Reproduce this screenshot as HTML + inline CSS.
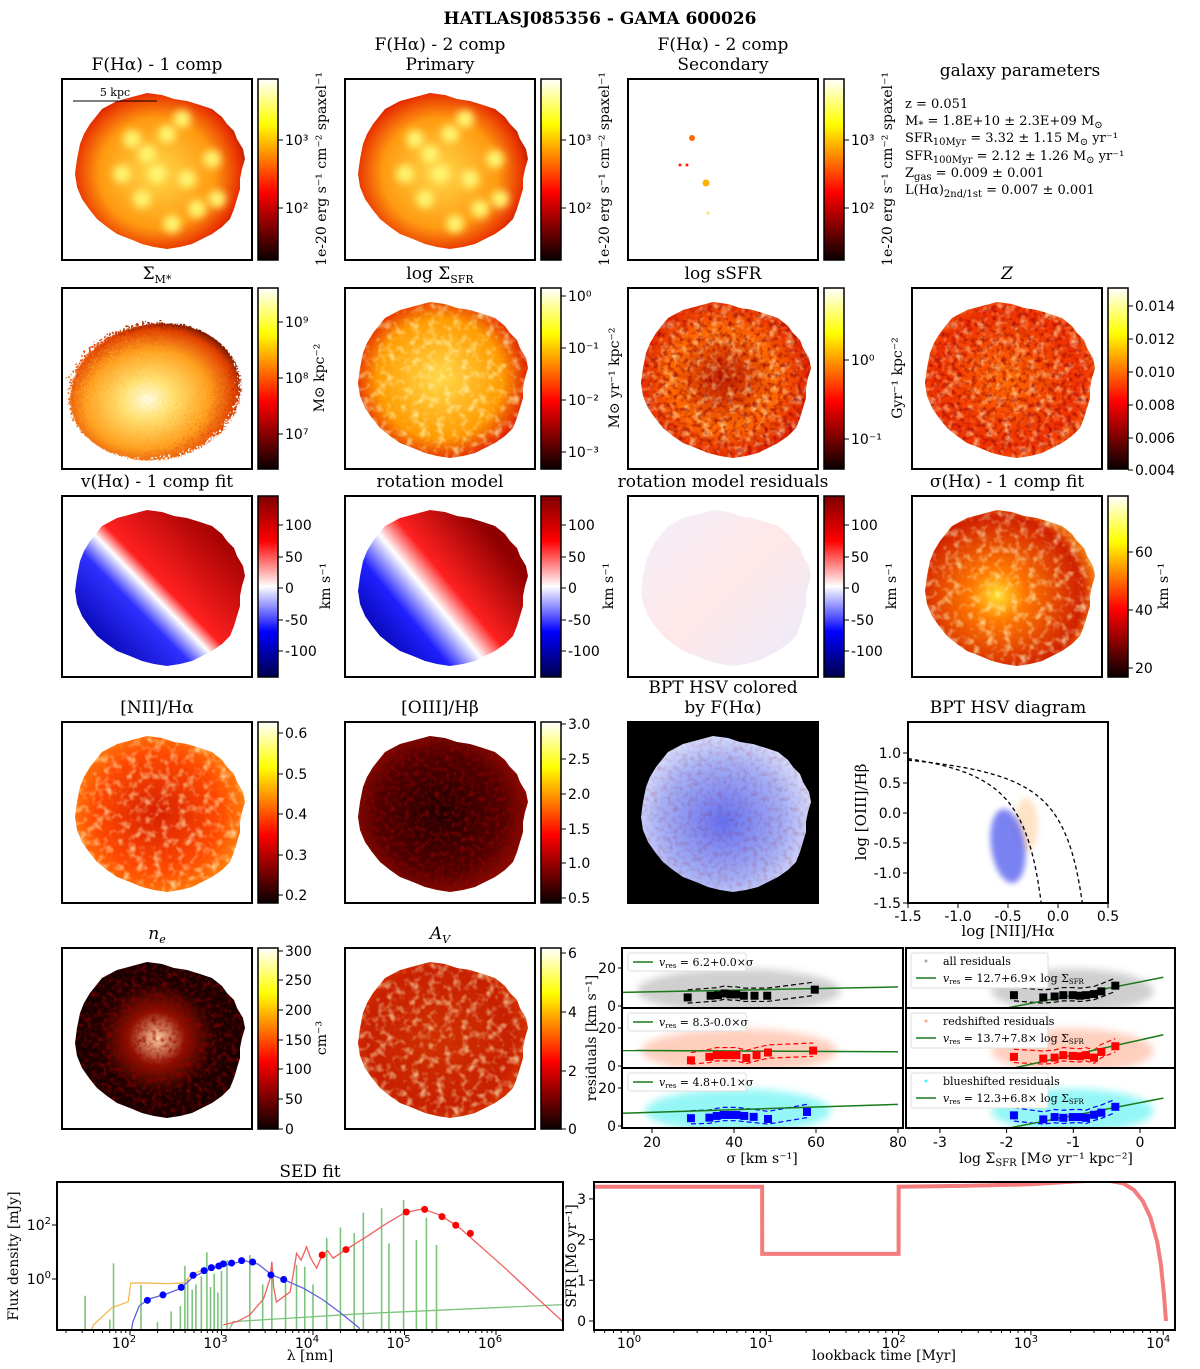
<!DOCTYPE html>
<html><head><meta charset="utf-8"><style>
html,body{margin:0;background:#fff;overflow:hidden;width:1200px;height:1369px}
svg{display:block}
svg text{font-family:"DejaVu Serif","Liberation Serif",serif;fill:#000}
.t{font-size:17px}.tk{font-family:"DejaVu Sans","Liberation Sans",sans-serif!important;font-size:14px}
.sm{font-size:13px}
</style></head><body>
<svg id="fig" width="1200" height="1369" viewBox="0 0 1200 1369" xmlns="http://www.w3.org/2000/svg">
<defs>
<linearGradient id="hot" x1="0" y1="1" x2="0" y2="0"><stop offset="0" stop-color="#0a0000"/><stop offset="0.375" stop-color="#ff0000"/><stop offset="0.75" stop-color="#ffff00"/><stop offset="1" stop-color="#ffffff"/></linearGradient>
<linearGradient id="seis" x1="0" y1="1" x2="0" y2="0"><stop offset="0" stop-color="#00004c"/><stop offset="0.25" stop-color="#0000ff"/><stop offset="0.5" stop-color="#ffffff"/><stop offset="0.75" stop-color="#ff0000"/><stop offset="1" stop-color="#800000"/></linearGradient>
<radialGradient id="gHa" cx="0.5" cy="0.52" r="0.55"><stop offset="0" stop-color="#ffd84a"/><stop offset="0.55" stop-color="#ff9a10"/><stop offset="0.8" stop-color="#e83000"/><stop offset="1" stop-color="#500000"/></radialGradient>
<radialGradient id="gMs" cx="0.45" cy="0.55" r="0.6"><stop offset="0" stop-color="#fffbe0"/><stop offset="0.25" stop-color="#ffe070"/><stop offset="0.6" stop-color="#ffa020"/><stop offset="0.85" stop-color="#e04000"/><stop offset="1" stop-color="#400000"/></radialGradient>
<radialGradient id="gSF" cx="0.5" cy="0.5" r="0.55"><stop offset="0" stop-color="#ffd84a"/><stop offset="0.6" stop-color="#ff9a00"/><stop offset="0.85" stop-color="#e02000"/><stop offset="1" stop-color="#800000"/></radialGradient>
<radialGradient id="gSS" cx="0.5" cy="0.5" r="0.55"><stop offset="0" stop-color="#c02000"/><stop offset="0.5" stop-color="#ff6a00"/><stop offset="0.85" stop-color="#e02000"/><stop offset="1" stop-color="#700000"/></radialGradient>
<radialGradient id="gZ" cx="0.5" cy="0.5" r="0.55"><stop offset="0" stop-color="#ff6a00"/><stop offset="0.7" stop-color="#f03000"/><stop offset="1" stop-color="#ff7a10"/></radialGradient>
<radialGradient id="gSig" cx="0.45" cy="0.55" r="0.55"><stop offset="0" stop-color="#ffe030"/><stop offset="0.25" stop-color="#ff7a00"/><stop offset="0.8" stop-color="#d02000"/><stop offset="1" stop-color="#ff9a10"/></radialGradient>
<radialGradient id="gN2" cx="0.5" cy="0.5" r="0.55"><stop offset="0" stop-color="#d82000"/><stop offset="0.6" stop-color="#ff4a00"/><stop offset="1" stop-color="#ff9a10"/></radialGradient>
<radialGradient id="gO3" cx="0.5" cy="0.5" r="0.55"><stop offset="0" stop-color="#200000"/><stop offset="0.6" stop-color="#500000"/><stop offset="1" stop-color="#b01000"/></radialGradient>
<radialGradient id="gAV" cx="0.5" cy="0.5" r="0.55"><stop offset="0" stop-color="#d03000"/><stop offset="0.7" stop-color="#c82000"/><stop offset="1" stop-color="#e04000"/></radialGradient>
<radialGradient id="gBPT" cx="0.5" cy="0.55" r="0.55"><stop offset="0" stop-color="#6670f0"/><stop offset="0.6" stop-color="#a6b0f6"/><stop offset="1" stop-color="#eef0ff"/></radialGradient>
<radialGradient id="gNe" cx="0.5" cy="0.5" r="0.5"><stop offset="0" stop-color="#ffd0a0"/><stop offset="0.3" stop-color="#901000"/><stop offset="0.6" stop-color="#200000"/><stop offset="1" stop-color="#100000"/></radialGradient>
<linearGradient id="gV1" x1="0.15" y1="0.85" x2="0.85" y2="0.2"><stop offset="0" stop-color="#0000a8"/><stop offset="0.35" stop-color="#3030ff"/><stop offset="0.47" stop-color="#ffffff"/><stop offset="0.55" stop-color="#ff2020"/><stop offset="1" stop-color="#a00000"/></linearGradient>
<linearGradient id="gV2" x1="0.1" y1="0.8" x2="0.8" y2="0.25"><stop offset="0" stop-color="#0000a0"/><stop offset="0.3" stop-color="#2020ff"/><stop offset="0.48" stop-color="#ffffff"/><stop offset="0.62" stop-color="#ff2020"/><stop offset="1" stop-color="#900000"/></linearGradient>
<linearGradient id="gV3" x1="0" y1="0" x2="1" y2="1"><stop offset="0" stop-color="#f0f0ff"/><stop offset="0.5" stop-color="#ffe8e8"/><stop offset="1" stop-color="#e8ecff"/></linearGradient>
<filter id="mott" x="0" y="0" width="1" height="1"><feTurbulence type="fractalNoise" baseFrequency="0.12" numOctaves="2" seed="3"/><feColorMatrix type="matrix" values="0 0 0 0 1  0 0 0 0 1  0 0 0 0 0.6  0 0 0 1.6 -0.75"/></filter>
<filter id="mottD" x="0" y="0" width="1" height="1"><feTurbulence type="fractalNoise" baseFrequency="0.2" numOctaves="2" seed="7"/><feColorMatrix type="matrix" values="0 0 0 0 0.3  0 0 0 0 0  0 0 0 0 0  0 0 0 1.8 -0.8"/></filter>
<filter id="speck" x="-0.1" y="-0.1" width="1.2" height="1.2"><feTurbulence type="turbulence" baseFrequency="0.35" numOctaves="1" seed="5"/><feDisplacementMap in="SourceGraphic" scale="12"/></filter>
<filter id="blur2" x="-0.5" y="-0.5" width="2" height="2"><feGaussianBlur stdDeviation="3"/></filter>
<filter id="blur4" x="-0.5" y="-0.5" width="2" height="2"><feGaussianBlur stdDeviation="4"/></filter>
<clipPath id="blob"><path id="blobP" d="M40,30 L55,22 L70,18 L85,14 L100,16 L112,20 L125,22 L138,26 L150,30 L160,38 L165,45 L172,52 L175,60 L181,70 L183,80 L180,90 L178,100 L178,110 L175,120 L172,130 L168,140 L160,148 L150,155 L140,160 L130,165 L118,168 L105,170 L92,168 L80,165 L68,160 L55,155 L45,148 L35,140 L27,130 L20,120 L15,108 L13,95 L15,80 L18,65 L22,55 L28,45 Z"/></clipPath>
</defs>
<text x="600" y="24" text-anchor="middle" style="font-size:17px;font-weight:bold">HATLASJ085356 - GAMA 600026</text>
<g id="maps"></g><g id="charts"></g>
<g class="sm">
<text x="1020" y="76" text-anchor="middle" class="t">galaxy parameters</text>
<text x="905" y="108">z = 0.051</text>
<text x="905" y="125">M<tspan dy="3" font-size="10">*</tspan><tspan dy="-3"> = 1.8E+10 ± 2.3E+09 M</tspan><tspan dy="3" font-size="10">⊙</tspan></text>
<text x="905" y="142">SFR<tspan dy="3" font-size="10">10Myr</tspan><tspan dy="-3"> = 3.32 ± 1.15 M</tspan><tspan dy="3" font-size="10">⊙</tspan><tspan dy="-3"> yr⁻¹</tspan></text>
<text x="905" y="160">SFR<tspan dy="3" font-size="10">100Myr</tspan><tspan dy="-3"> = 2.12 ± 1.26 M</tspan><tspan dy="3" font-size="10">⊙</tspan><tspan dy="-3"> yr⁻¹</tspan></text>
<text x="905" y="177">Z<tspan dy="3" font-size="10">gas</tspan><tspan dy="-3"> = 0.009 ± 0.001</tspan></text>
<text x="905" y="194">L(Hα)<tspan dy="3" font-size="10">2nd/1st</tspan><tspan dy="-3"> = 0.007 ± 0.001</tspan></text>
</g>
</svg>
<script>
const NS='http://www.w3.org/2000/svg';
function mk(tag,attrs,parent){const e=document.createElementNS(NS,tag);for(const k in attrs)e.setAttribute(k,attrs[k]);parent.appendChild(e);return e;}
function txt(s,attrs,parent){const e=mk('text',attrs,parent);e.textContent=s;return e;}
const maps=document.getElementById('maps');
const panels=[
 {n:'flux-1comp',x:62,y:79,f:'gHa',t:['F(Hα) - 1 comp'],cb:'hot',tk:[['10³',140],['10²',208]],lab:'1e-20 erg s⁻¹ cm⁻² spaxel⁻¹',lo:68},
 {n:'flux-2comp-primary',x:345,y:79,f:'gHa',t:['F(Hα) - 2 comp','Primary'],cb:'hot',tk:[['10³',140],['10²',208]],lab:'1e-20 erg s⁻¹ cm⁻² spaxel⁻¹',lo:68},
 {n:'flux-2comp-secondary',x:628,y:79,f:null,t:['F(Hα) - 2 comp','Secondary'],cb:'hot',tk:[['10³',140],['10²',208]],lab:'1e-20 erg s⁻¹ cm⁻² spaxel⁻¹',lo:68},
 {n:'stellar-mass-density',x:62,y:288,f:'gMs',t:['Σ_M*'],cb:'hot',tk:[['10⁹',322],['10⁸',378],['10⁷',434]],lab:'M⊙ kpc⁻²',big:1,lo:66},
 {n:'sfr-density',x:345,y:288,f:'gSF',t:['log Σ_SFR'],cb:'hot',tk:[['10⁰',296],['10⁻¹',348],['10⁻²',400],['10⁻³',452]],lab:'M⊙ yr⁻¹ kpc⁻²',lo:78},
 {n:'ssfr',x:628,y:288,f:'gSS',t:['log sSFR'],cb:'hot',tk:[['10⁰',360],['10⁻¹',439]],lab:'Gyr⁻¹ kpc⁻²',lo:78},
 {n:'metallicity',x:912,y:288,f:'gZ',t:['Z'],cb:'hot',tk:[['0.014',306],['0.012',339],['0.010',372],['0.008',405],['0.006',438],['0.004',470]],lab:''},
 {n:'velocity-1comp',x:62,y:496,f:'gV1',t:['v(Hα) - 1 comp fit'],cb:'seis',tk:[['100',525],['50',557],['0',588],['-50',620],['-100',651]],lab:'km s⁻¹',lo:72},
 {n:'rotation-model',x:345,y:496,f:'gV2',t:['rotation model'],cb:'seis',tk:[['100',525],['50',557],['0',588],['-50',620],['-100',651]],lab:'km s⁻¹',lo:72},
 {n:'rotation-residuals',x:628,y:496,f:'gV3',t:['rotation model residuals'],cb:'seis',tk:[['100',525],['50',557],['0',588],['-50',620],['-100',651]],lab:'km s⁻¹',lo:72},
 {n:'sigma-1comp',x:912,y:496,f:'gSig',t:['σ(Hα) - 1 comp fit'],cb:'hot',tk:[['60',552],['40',610],['20',668]],lab:'km s⁻¹',lo:60},
 {n:'nii-ha',x:62,y:722,f:'gN2',t:['[NII]/Hα'],cb:'hot',tk:[['0.6',733],['0.5',774],['0.4',814],['0.3',855],['0.2',895]],lab:''},
 {n:'oiii-hb',x:345,y:722,f:'gO3',t:['[OIII]/Hβ'],cb:'hot',tk:[['3.0',724],['2.5',759],['2.0',794],['1.5',829],['1.0',863],['0.5',898]],lab:''},
 {n:'bpt-hsv-map',x:628,y:722,f:'gBPT',t:['BPT HSV colored','by F(Hα)'],cb:null,bg:'#000'},
 {n:'electron-density',x:62,y:948,f:'gNe',t:['n_e'],cb:'hot',tk:[['300',951],['250',980],['200',1010],['150',1040],['100',1069],['50',1099],['0',1129]],lab:'cm⁻³',lo:68},
 {n:'extinction-av',x:345,y:948,f:'gAV',t:['A_V'],cb:'hot',tk:[['6',953],['4',1012],['2',1071],['0',1129]],lab:''}
];
const haSpots=[[70,60],[105,55],[95,95],[125,100],[150,80],[135,130],[110,145],[80,120],[60,95],[155,120],[120,40],[85,75]];
panels.forEach(p=>{
 const g=mk('g',{},maps);
 
 
 const W=190,H=181;
 if(p.bg) mk('rect',{x:p.x,y:p.y,width:W,height:H,fill:p.bg},g);
 if(p.f){
  const gg=mk('g',{transform:`translate(${p.x},${p.y})`},g);
  if(p.big){
   const e=mk('ellipse',{cx:88,cy:100,rx:86,ry:68,fill:'url(#'+p.f+')',filter:'url(#speck)',transform:'rotate(-10 88 100)'},gg);
   
   
  } else {
   const cg=mk('g',{'clip-path':'url(#blob)'},gg);
   const r=mk('rect',{x:0,y:0,width:W,height:H,fill:'url(#'+p.f+')'},cg);
   
   
   if(p.f==='gHa'){
    haSpots.forEach(s=>{const c=mk('circle',{cx:s[0],cy:s[1],r:9,fill:'#fff470',filter:'url(#blur4)'},cg);
     
     });
   }
   if(p.f==='gSF'||p.f==='gSS'||p.f==='gZ'||p.f==='gSig'||p.f==='gN2'||p.f==='gAV') mk('rect',{x:0,y:0,width:W,height:H,filter:'url(#mott)'},cg);
   if(p.f==='gSS'||p.f==='gO3'||p.f==='gNe'||p.f==='gZ') mk('rect',{x:0,y:0,width:W,height:H,filter:'url(#mottD)'},cg);
   if(p.f==='gBPT') mk('rect',{x:0,y:0,width:W,height:H,filter:'url(#mottD)',opacity:0.25},cg);
  }
 }
 if(p.n==='flux-2comp-secondary'){
  [[692,138,'#ff6a00',3],[680,165,'#ff2000',1.5],[687,165,'#ff2000',1.5],[706,183,'#ffb000',3.5],[708,213,'#ffe060',1.5]].forEach(d=>{
   const c=mk('circle',{cx:d[0],cy:d[1],r:d[3],fill:d[2]},g);
   
   
  });
 }
 mk('rect',{x:p.x,y:p.y,width:W,height:H,fill:'none',stroke:'#000','stroke-width':2},g);
 const tl=p.t.length;
 p.t.forEach((s,i)=>{
  const ty=p.y-9-(tl-1-i)*20;
  let e;
  if(s.indexOf('_')>=0){
   const parts=s.split('_');
   e=mk('text',{x:p.x+95,y:ty,'text-anchor':'middle',class:'t'},g);
   const a=mk('tspan',{},e);a.textContent=parts[0];
   const b=mk('tspan',{dy:4,'font-size':11},e);b.textContent=parts[1];
   if(parts[0]==='n'||parts[0]==='A'){e.setAttribute('font-style','italic');}
  } else {
   e=txt(s,{x:p.x+95,y:ty,'text-anchor':'middle',class:'t','font-style':s==='Z'?'italic':'normal'},g);
  }
  
  
 });
 if(p.cb){
  const cx=p.x+196;
  const cb=mk('rect',{x:cx,y:p.y,width:20,height:H,fill:'url(#'+p.cb+')',stroke:'#000','stroke-width':1.5},g);
  
  
  p.tk.forEach(t=>{
   mk('line',{x1:cx+20,x2:cx+25,y1:t[1],y2:t[1],stroke:'#000'},g);
   const e=txt(t[0],{x:cx+27,y:t[1]+5,class:'tk'},g);
   
   
  });
  if(p.lab){
   const lx=cx+p.lo, ly=p.y+90;
   const e=txt(p.lab,{x:0,y:0,'text-anchor':'middle',style:'font-size:14px',transform:`translate(${lx},${ly}) rotate(-90)`},g);
   
   
  }
 }
});
{const l=mk('line',{x1:73,x2:157,y1:101,y2:101,stroke:'#000','stroke-width':1},maps);


const e=txt('5 kpc',{x:115,y:96,'text-anchor':'middle',style:'font-size:11px'},maps);

}

const C=document.getElementById('charts');
// ---------- BPT diagram ----------
const bptXTicks=[-1.5,-1.0,-0.5,0.0,0.5];
const bptYTicks=[1.0,0.5,0.0,-0.5,-1.0,-1.5];
const bptBlueCloud=[-0.5,-0.55,0.17,0.62];
const bptOrangeCloud=[-0.32,-0.2,0.12,0.45];
{
 const x0=908,x1=1108,y0=722,y1=903;
 const X=v=>x0+(v+1.5)/2*(x1-x0), Y=v=>903-(v+1.5)*60;
 const g=mk('g',{},C);
 
 
 const cp=mk('clipPath',{id:'bptclip'},g);mk('rect',{x:x0,y:y0,width:x1-x0,height:y1-y0},cp);
 const ig=mk('g',{'clip-path':'url(#bptclip)'},g);
 const o=mk('ellipse',{cx:X(bptOrangeCloud[0]),cy:Y(bptOrangeCloud[1]),rx:bptOrangeCloud[2]*100,ry:bptOrangeCloud[3]*60,fill:'#ffd8b0',opacity:0.7,filter:'url(#blur2)'},ig);
 
 
 const b=mk('ellipse',{cx:X(bptBlueCloud[0]),cy:Y(bptBlueCloud[1]),rx:bptBlueCloud[2]*100,ry:bptBlueCloud[3]*60,fill:'#5a64f0',opacity:0.8,filter:'url(#blur2)',transform:`rotate(-8 ${X(bptBlueCloud[0])} ${Y(bptBlueCloud[1])})`},ig);
 
 
 let d1='',d2='';
 for(let v=-1.5;v<=0.03;v+=0.02){d1+=(d1?'L':'M')+X(v)+','+Y(0.61/(v-0.05)+1.3);}
 for(let v=-1.5;v<=0.43;v+=0.02){d2+=(d2?'L':'M')+X(v)+','+Y(0.61/(v-0.47)+1.19);}
 const k1=mk('path',{d:d1,fill:'none',stroke:'#000','stroke-dasharray':'4,3','stroke-width':1.3},ig);
 
 
 const k2=mk('path',{d:d2,fill:'none',stroke:'#000','stroke-dasharray':'4,3','stroke-width':1.3},ig);
 
 
 mk('rect',{x:x0,y:y0,width:x1-x0,height:y1-y0,fill:'none',stroke:'#000','stroke-width':2},g);
 bptXTicks.forEach(v=>{mk('line',{x1:X(v),x2:X(v),y1:y1,y2:y1+5,stroke:'#000'},g);
  const e=txt(v.toFixed(1),{x:X(v),y:y1+18,'text-anchor':'middle',class:'tk'},g);
  
  });
 bptYTicks.forEach(v=>{mk('line',{x1:x0-5,x2:x0,y1:Y(v),y2:Y(v),stroke:'#000'},g);
  const e=txt(v.toFixed(1),{x:x0-7,y:Y(v)+5,'text-anchor':'end',class:'tk'},g);
  
  });
 const t=txt('BPT HSV diagram',{x:1008,y:713,'text-anchor':'middle',class:'t'},g);
 
 
 const xl=txt('log [NII]/Hα',{x:1008,y:936,'text-anchor':'middle',style:'font-size:15px'},g);
 
 
 const yl=txt('log [OIII]/Hβ',{x:0,y:0,'text-anchor':'middle',style:'font-size:15px',transform:'translate(866,812) rotate(-90)'},g);
 
 
}

// ---------- Residual plots ----------
const sigBins=[[28.7,34.3,36.1,37.7,39.1,40.5,42.4,45,48.1,59.7],[29.5,34,35.8,37.5,39,40.6,43,45.5,48.3,59.3],[29.5,34,35.8,37.5,39,40.6,42.5,44.8,48.3,57.8]];
const sigVals=[[4.5,5.4,5.7,6.6,6.1,6.1,5.4,5.4,5.4,8.6],[3.0,4.8,5.7,5.7,5.7,5.7,4.2,5.7,7.1,8.1],[4.1,4.4,5.3,5.8,5.8,5.8,5.3,4.8,3.7,7.4]];
const sfrBins=[-1.89,-1.45,-1.28,-1.15,-1.01,-0.90,-0.81,-0.69,-0.58,-0.37];
const sfrVals=[[5.7,4.5,5.0,5.7,5.7,5.4,5.7,6.3,7.7,10.7],[4.8,3.9,4.4,5.7,5.3,5.1,5.7,4.4,7.4,10.4],[5.6,3.5,4.7,4.3,4.7,4.7,4.3,5.9,7.0,10.1]];
const sigFitA=[6.6,8.3,5.8], sigFitB=[0.043,-0.01,0.07];
const sfrFitA=[12.7,13.7,12.3], sfrFitB=[6.9,7.8,6.8];
const sigLabels=['= 6.2+0.0×σ','= 8.3-0.0×σ','= 4.8+0.1×σ'];
const sfrLabels=['= 12.7+6.9× log Σ','= 13.7+7.8× log Σ','= 12.3+6.8× log Σ'];
const resNames=['all residuals','redshifted residuals','blueshifted residuals'];
const sigTicks=[20,40,60,80], sfrTicks=[-3,-2,-1,0], resYTicks=[0,20];
{
 const L0=622,L1=903,R0=906,R1=1175;
 const XS=v=>652+(v-20)*4.1, XR=v=>1140+v*66.7;
 const rowTop=[948,1008,1068], rowH=60;
 const ptCol=['#a8a8a8','#ffa888','#40f0f0'], sqCol=['#000','#ff0000','#0000ff'];
 const g=mk('g',{},C);
 
 
 for(let r=0;r<3;r++){
  const Y=v=>rowTop[r]+rowH-2-v*1.9;
  [[L0,L1,XS,sigBins[r],sigVals[r],sigFitA[r],sigFitB[r],10,80,'sig'],[R0,R1,XR,sfrBins,sfrVals[r],sfrFitA[r],sfrFitB[r],-2.0,0.35,'sfr']].forEach(s=>{
   const [a,b,X,bx,by,fa,fb,f0,f1,kind]=s;
   const cid='rc'+r+kind;
   const cp=mk('clipPath',{id:cid},g);mk('rect',{x:a,y:rowTop[r],width:b-a,height:rowH},cp);
   const ig=mk('g',{'clip-path':'url(#'+cid+')'},g);
   const mx=bx.reduce((p,c)=>p+c,0)/bx.length;
   const cl=mk('ellipse',{cx:X(mx),cy:Y(8),rx:(X(bx[bx.length-1])-X(bx[0]))*0.8,ry:22,fill:ptCol[r],opacity:0.55,filter:'url(#blur4)'},ig);
   
   
   let up='',lo='';
   bx.forEach((v,i)=>{up+=(i?'L':'M')+X(v)+','+Y(by[i]+4);lo+=(i?'L':'M')+X(v)+','+Y(Math.max(by[i]-3,1));});
   const e1=mk('path',{d:up,fill:'none',stroke:sqCol[r],'stroke-dasharray':'5,3','stroke-width':1.2},ig);
   
   
   const e2=mk('path',{d:lo,fill:'none',stroke:sqCol[r],'stroke-dasharray':'5,3','stroke-width':1.2},ig);
   
   
   const fl=mk('line',{x1:X(f0),y1:Y(fa+fb*f0),x2:X(f1),y2:Y(fa+fb*f1),stroke:'#1a7a1a','stroke-width':1.5},ig);
   
   
   bx.forEach((v,i)=>{const q=mk('rect',{x:X(v)-4,y:Y(by[i])-4,width:8,height:8,fill:sqCol[r]},ig);
    
    });
   mk('rect',{x:a,y:rowTop[r],width:b-a,height:rowH,fill:'none',stroke:'#000','stroke-width':2},g);
  });
  resYTicks.forEach(v=>{mk('line',{x1:L0-4,x2:L0,y1:Y(v),y2:Y(v),stroke:'#000'},g);
   const e=txt(String(v),{x:L0-6,y:Y(v)+5,'text-anchor':'end',class:'tk'},g);
   
   });
  const lg=mk('g',{},g);
  
  
  mk('rect',{x:L0+6,y:rowTop[r]+5,width:118,height:18,fill:'#fff',stroke:'#ddd',rx:2},lg);
  mk('line',{x1:L0+11,x2:L0+31,y1:rowTop[r]+14,y2:rowTop[r]+14,stroke:'#1a7a1a','stroke-width':1.5},lg);
  const lt=mk('text',{x:L0+37,y:rowTop[r]+18,style:'font-size:11px'},lg);
  const a1=mk('tspan',{'font-style':'italic'},lt);a1.textContent='v';
  const a2=mk('tspan',{dy:2,'font-size':7},lt);a2.textContent='res';
  const a3=mk('tspan',{dy:-2},lt);a3.textContent=' '+sigLabels[r];
  mk('rect',{x:R0+5,y:rowTop[r]+5,width:137,height:35,fill:'#fff',stroke:'#ddd',rx:2},lg);
  mk('circle',{cx:R0+20,cy:rowTop[r]+13,r:1.5,fill:ptCol[r]},lg);
  txt(resNames[r],{x:R0+37,y:rowTop[r]+17,style:'font-size:11px'},lg);
  mk('line',{x1:R0+10,x2:R0+30,y1:rowTop[r]+30,y2:rowTop[r]+30,stroke:'#1a7a1a','stroke-width':1.5},lg);
  const rt=mk('text',{x:R0+37,y:rowTop[r]+34,style:'font-size:11px'},lg);
  const b1=mk('tspan',{'font-style':'italic'},rt);b1.textContent='v';
  const b2=mk('tspan',{dy:2,'font-size':7},rt);b2.textContent='res';
  const b3=mk('tspan',{dy:-2},rt);b3.textContent=' '+sfrLabels[r];
  const b4=mk('tspan',{dy:2,'font-size':7},rt);b4.textContent='SFR';
 }
 sigTicks.forEach(v=>{mk('line',{x1:XS(v),x2:XS(v),y1:1128,y2:1133,stroke:'#000'},g);
  const e=txt(String(v),{x:XS(v),y:1147,'text-anchor':'middle',class:'tk'},g);
  
  });
 sfrTicks.forEach(v=>{mk('line',{x1:XR(v),x2:XR(v),y1:1128,y2:1133,stroke:'#000'},g);
  const e=txt(String(v),{x:XR(v),y:1147,'text-anchor':'middle',class:'tk'},g);
  
  });
 const yl=txt('residuals [km s⁻¹]',{x:0,y:0,'text-anchor':'middle',style:'font-size:14px',transform:'translate(596,1038) rotate(-90)'},g);
 
 
 const x1=txt('σ [km s⁻¹]',{x:762,y:1163,'text-anchor':'middle',style:'font-size:14px'},g);
 
 
 const x2=mk('text',{x:1046,y:1163,'text-anchor':'middle',style:'font-size:14px'},g);
 
 
 const s1=mk('tspan',{},x2);s1.textContent='log Σ';
 const s2=mk('tspan',{dy:3,'font-size':10},x2);s2.textContent='SFR';
 const s3=mk('tspan',{dy:-3},x2);s3.textContent=' [M⊙ yr⁻¹ kpc⁻²]';
}

// ---------- SED fit ----------
const sedBlueLam=[2.19,2.36,2.56,2.69,2.81,2.89,2.97,3.02,3.11,3.22,3.34,3.54,3.68];
const sedBlueFlux=[-0.79,-0.59,-0.31,0.14,0.31,0.42,0.48,0.56,0.59,0.68,0.63,0.15,-0.02];
const sedRedLam=[4.10,4.36,5.02,5.22,5.41,5.56,5.72];
const sedRedFlux=[0.89,1.09,2.48,2.58,2.31,1.99,1.69];
const stellarLam=[1.99,2.03,2.1,2.2,2.4,2.55,2.7,2.9,3.1,3.25,3.4,3.55,3.7,3.9,4.1,4.3,4.5,4.6];
const stellarFlux=[-2.45,-1.6,-1.0,-0.75,-0.55,-0.35,0.1,0.4,0.55,0.68,0.55,0.15,-0.05,-0.35,-0.75,-1.25,-1.8,-2.45];
const unattLam=[1.52,1.6,1.8,1.98,2.01,2.2,2.4,2.58,2.69,2.84];
const unattFlux=[-2.45,-1.7,-1.07,-0.84,-0.15,-0.15,-0.17,-0.15,0.2,0.38];
const dustLam=[3.02,3.17,3.31,3.46,3.53,3.55,3.57,3.6,3.75,3.8,3.82,3.87,3.93,3.97,4.04,4.1,4.16,4.22,4.36,4.6,4.8,5.0,5.2,5.4,5.6,5.8,6.1,6.4,6.73];
const dustFlux=[-1.7,-1.58,-1.33,-0.73,0.0,0.63,-0.3,-0.85,-0.48,0.5,0.95,0.7,1.19,0.8,0.4,0.89,1.05,0.77,1.09,1.6,2.05,2.45,2.6,2.35,1.9,1.3,0.4,-0.55,-1.58];
const contLam=[3.0,3.13,4.56,6.73], contFlux=[-2.45,-1.58,-1.28,-0.95];
const lineLam=[1.51,1.78,1.82,2.12,2.3,2.45,2.55,2.6,2.63,2.68,2.72,2.78,2.84,2.88,2.92,2.96,3.0,3.06,3.31,3.45,3.55,3.7,3.82,3.91,4.0,4.15,4.3,4.45,4.55,4.75,4.83,4.99,5.13,5.24,5.35];
const lineFlux=[-0.62,-1.5,0.58,-0.22,-1.6,-1.2,-1.0,0.49,0.0,-0.4,-0.2,0.1,0.99,-0.3,0.2,-0.5,0.3,0.70,0.89,-0.2,0.64,0.1,0.52,0.46,-0.2,1.53,1.91,1.7,2.46,2.62,1.32,2.93,1.44,2.27,1.26];
const sedXTicks=[2,3,4,5,6], sedYTicks=[0,2];
{
 const x0=57,x1=563,y0=1182,y1=1330;
 const X=v=>130+(v-2)*91.5, Y=v=>1279-v*27;
 const g=mk('g',{},C);
 
 
 const cp=mk('clipPath',{id:'sedclip'},g);mk('rect',{x:x0,y:y0,width:x1-x0,height:y1-y0},cp);
 const ig=mk('g',{'clip-path':'url(#sedclip)'},g);
 const path=(xs,ys)=>xs.map((v,i)=>(i?'L':'M')+X(v)+','+Y(ys[i])).join('');
 lineLam.forEach((v,i)=>{const l=mk('line',{x1:X(v),x2:X(v),y1:y1,y2:Y(lineFlux[i]),stroke:'#7cc47c','stroke-width':1.6},ig);
  
  });
 [[contLam,contFlux,'#7cc47c','sed-nebular-continuum'],[unattLam,unattFlux,'#f4b850','sed-unattenuated-stellar'],[stellarLam,stellarFlux,'#6060d8','sed-attenuated-stellar'],[dustLam,dustFlux,'#f06060','sed-dust-emission']].forEach(s=>{
  const p=mk('path',{d:path(s[0],s[1]),fill:'none',stroke:s[2],'stroke-width':1.3},ig);
  
  });
 sedBlueLam.forEach((v,i)=>{const c=mk('circle',{cx:X(v),cy:Y(sedBlueFlux[i]),r:3.5,fill:'#0000ff'},ig);
  
  });
 sedRedLam.forEach((v,i)=>{const c=mk('circle',{cx:X(v),cy:Y(sedRedFlux[i]),r:3.5,fill:'#ff0000'},ig);
  
  });
 mk('rect',{x:x0,y:y0,width:x1-x0,height:y1-y0,fill:'none',stroke:'#000','stroke-width':2},g);
 sedXTicks.forEach(v=>{mk('line',{x1:X(v),x2:X(v),y1:y1,y2:y1+5,stroke:'#000'},g);
  for(let k=2;k<10;k++){const xx=X(v-1+Math.log10(k));if(xx>x0)mk('line',{x1:xx,x2:xx,y1:y1,y2:y1+3,stroke:'#000'},g);}
  const e=mk('text',{x:X(v)-6,y:y1+18,'text-anchor':'middle',class:'tk'},g);
  
  
  const a=mk('tspan',{},e);a.textContent='10';const b=mk('tspan',{dy:-6,'font-size':10},e);b.textContent=String(v);});
 sedYTicks.forEach(v=>{mk('line',{x1:x0-5,x2:x0,y1:Y(v),y2:Y(v),stroke:'#000'},g);
  const e=mk('text',{x:x0-6,y:Y(v)+5,'text-anchor':'end',class:'tk'},g);
  
  
  const a=mk('tspan',{},e);a.textContent='10';const b=mk('tspan',{dy:-6,'font-size':10},e);b.textContent=String(v);});
 const t=txt('SED fit',{x:310,y:1177,'text-anchor':'middle',class:'t'},g);
 
 
 const xl=txt('λ [nm]',{x:310,y:1360,'text-anchor':'middle',style:'font-size:14px'},g);
 
 
 const yl=txt('Flux density [mJy]',{x:0,y:0,'text-anchor':'middle',style:'font-size:14px',transform:'translate(18,1256) rotate(-90)'},g);
 
 
}

// ---------- Star formation history ----------
const sfhTime=[0.5,9.3,9.31,100,100.1,300,1000,2000,3000,4000,5000,6000,7000,8000,9000,9600,10100,10500];
const sfhRate=[3.3,3.3,1.65,1.65,3.3,3.32,3.36,3.42,3.45,3.44,3.38,3.22,2.95,2.55,1.95,1.4,0.7,0.0];
const sfhXTicks=[0,1,2,3,4], sfhYTicks=[0,1,2,3];
{
 const x0=594,x1=1175,y0=1182,y1=1330;
 const X=t=>634+Math.log10(t)*132.3, Y=v=>1321-v*40.7;
 const g=mk('g',{},C);
 
 
 const cp=mk('clipPath',{id:'sfhclip'},g);mk('rect',{x:x0,y:y0,width:x1-x0,height:y1-y0},cp);
 const d=sfhTime.map((t,i)=>(i?'L':'M')+X(t)+','+Y(sfhRate[i])).join('');
 const p=mk('path',{d:d,fill:'none',stroke:'#f47c7c','stroke-width':4,'clip-path':'url(#sfhclip)'},g);
 
 
 mk('rect',{x:x0,y:y0,width:x1-x0,height:y1-y0,fill:'none',stroke:'#000','stroke-width':2},g);
 sfhXTicks.forEach(v=>{mk('line',{x1:X(10**v),x2:X(10**v),y1:y1,y2:y1+5,stroke:'#000'},g);
  for(let k=2;k<10;k++){const xx=X(k*10**(v-1));if(xx>x0)mk('line',{x1:xx,x2:xx,y1:y1,y2:y1+3,stroke:'#000'},g);}
  const e=mk('text',{x:X(10**v)-5,y:y1+18,'text-anchor':'middle',class:'tk'},g);
  
  
  const a=mk('tspan',{},e);a.textContent='10';const b=mk('tspan',{dy:-6,'font-size':10},e);b.textContent=String(v);});
 sfhYTicks.forEach(v=>{mk('line',{x1:x0-5,x2:x0,y1:Y(v),y2:Y(v),stroke:'#000'},g);
  const e=txt(String(v),{x:x0-8,y:Y(v)+5,'text-anchor':'end',class:'tk'},g);
  
  });
 const xl=txt('lookback time [Myr]',{x:884,y:1360,'text-anchor':'middle',style:'font-size:14px'},g);
 
 
 const yl=txt('SFR [M⊙ yr⁻¹]',{x:0,y:0,'text-anchor':'middle',style:'font-size:14px',transform:'translate(576,1256) rotate(-90)'},g);
 
 
}
</script>
</body></html>
